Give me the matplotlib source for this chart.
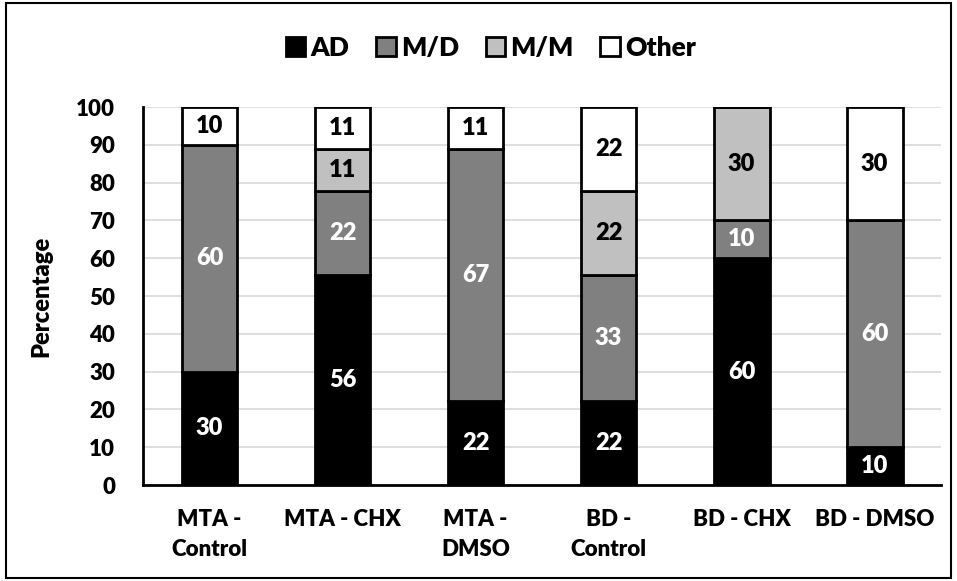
import matplotlib.pyplot as plt
import numpy as np

plt.rcParams['font.family'] = ['Lato', 'DejaVu Sans']
plt.rcParams['font.weight'] = 'bold'

groups = ['MTA -\nControl', 'MTA - CHX', 'MTA -\nDMSO', 'BD -\nControl', 'BD - CHX', 'BD - DMSO']
series = ['AD', 'M/D', 'M/M', 'Other']
ad = [30.0, 55.6, 22.2, 22.2, 60.0, 10.0]
md = [60.0, 22.2, 66.7, 33.3, 10.0, 60.0]
mm = [0.0, 11.1, 0.0, 22.2, 30.0, 0.0]
other = [10.0, 11.1, 11.1, 22.2, 0.0, 30.0]

colors = ['#000000', '#808080', '#c0c0c0', '#ffffff']
text_colors = ['white', 'white', 'black', 'black']

fig = plt.figure(figsize=(9.57, 5.81), dpi=100)
ax = fig.add_axes([0.1494, 0.1652, 0.834, 0.6506])

x = np.arange(len(groups))
bottom = np.zeros(len(groups))
for name, vals, col, tc in zip(series, [ad, md, mm, other], colors, text_colors):
    vals = np.array(vals)
    bars = ax.bar(x, vals, 0.42, bottom=bottom, color=col, edgecolor='black',
                  linewidth=2.0, label=name, zorder=3)
    for b, v, b0 in zip(bars, vals, bottom):
        if v > 0:
            ax.text(b.get_x() + b.get_width() / 2, b0 + v / 2, f'{v:.0f}',
                    ha='center', va='center', color=tc, fontsize=17, fontweight='heavy', zorder=4)
    bottom += vals

ax.set_xlim(-0.5, len(groups) - 0.5)
ax.set_ylim(0, 100)
ax.set_yticks(range(0, 101, 10))
ax.set_xticks(x)
ax.set_xticklabels(groups, fontsize=16, fontweight='heavy', linespacing=1.55)
ax.tick_params(axis='y', labelsize=16, length=0, pad=20)
ax.tick_params(axis='x', length=0, pad=17)
for t in ax.get_yticklabels():
    t.set_fontweight('heavy')
ax.yaxis.grid(True, color='#d9d9d9', linewidth=1.2, zorder=0)
ax.set_axisbelow(True)
for s in ['top', 'right']:
    ax.spines[s].set_visible(False)
ax.spines['left'].set_linewidth(2)
ax.spines['bottom'].set_linewidth(2)
ax.set_ylabel('Percentage', fontsize=17, fontweight='heavy', labelpad=17)

fig.legend(loc='center', bbox_to_anchor=(0.513, 0.918), ncol=4, frameon=False,
           prop={'size': 19, 'weight': 'heavy'}, handlelength=0.75, handleheight=0.75,
           handletextpad=0.2, columnspacing=1.0)

# outer chart border
fig.patches.append(plt.Rectangle((0.006, 0.006), 0.988, 0.988, transform=fig.transFigure,
                                 fill=False, edgecolor='black', linewidth=1.5))

fig.savefig('out.png', dpi=100)
